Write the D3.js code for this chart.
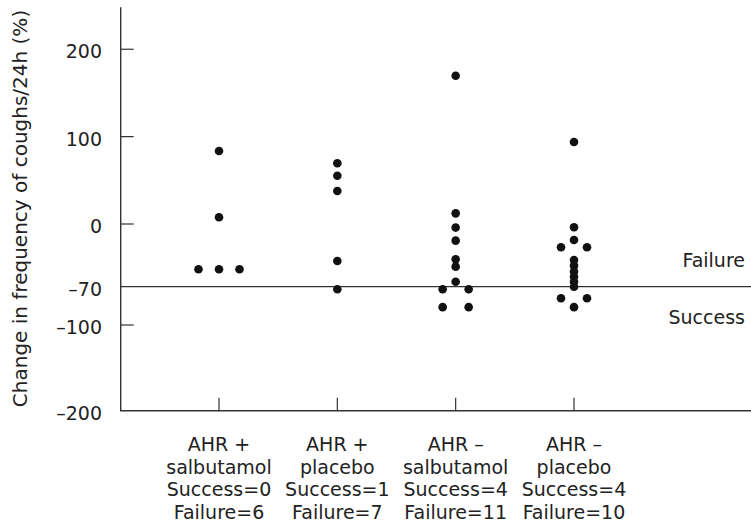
<!DOCTYPE html>
<html>
<head>
<meta charset="utf-8">
<script src="https://cdn.jsdelivr.net/npm/d3@7"></script>
<style>
  html, body { margin: 0; padding: 0; background: #fff; }
  svg { display: block; font-family: "DejaVu Sans", sans-serif; }
</style>
</head>
<body>
<svg id="chart" width="751" height="524"></svg>
<script>
// ---- data ----
const categories = ["AHR+ salbutamol", "AHR+ placebo", "AHR- salbutamol", "AHR- placebo"];
const categoryLabels = [
  ["AHR +", "salbutamol", "Success=0", "Failure=6"],
  ["AHR +", "placebo", "Success=1", "Failure=7"],
  ["AHR \u2013", "salbutamol", "Success=4", "Failure=11"],
  ["AHR \u2013", "placebo", "Success=4", "Failure=10"]
];
const ahrPosSalbutamol = [83.5, 7.7, -50.6, -50.6, -50.6];
const ahrPosPlacebo = [69.5, 55.3, 37.8, -41.3, -72];
const ahrNegSalbutamol = [169.7, 12.2, -4, -18.6, -39.4, -47.6, -64.4, -72, -72, -86, -86];
const ahrNegPlacebo = [93.8, -3.7, -17.9, -26, -26, -40.2, -46.5, -53.2, -58.8, -64.4, -70, -79, -79, -86];
const seriesValues = [ahrPosSalbutamol, ahrPosPlacebo, ahrNegSalbutamol, ahrNegPlacebo];
const yTickValues = [200, 100, 0, -70, -100, -200];
const yTickLabels = ["200", "100", "0", "\u201370", "\u2013100", "\u2013200"];
const threshold = -70;
const yAxisTitle = "Change in frequency of coughs/24h (%)";
const regionLabels = ["Failure", "Success"];

// ---- layout ----
const svg = d3.select("#chart");
const axisX = 120.7, axisBottom = 410.7, axisTop = 7.3, rightEnd = 751;
const ink = "#333";
const fontSize = 19;
const textColor = "#222";

// piecewise (schematic) y scale as drawn in the original
const y = d3.scaleLinear()
  .domain([-200, -100, -70, 0, 248])
  .range([axisBottom, 325, 286.7, 224, axisTop]);
const x = d3.scalePoint().domain(categories).range([219, 574]);

// axes lines
svg.append("line").attr("x1", axisX).attr("x2", axisX)
  .attr("y1", axisTop).attr("y2", axisBottom)
  .attr("stroke", ink).attr("stroke-width", 1.4);
svg.append("line").attr("x1", axisX - 0.7).attr("x2", rightEnd)
  .attr("y1", axisBottom).attr("y2", axisBottom)
  .attr("stroke", ink).attr("stroke-width", 1.4);

// y ticks (inward) except threshold and bottom
yTickValues.forEach((v, i) => {
  if (v !== threshold && v !== -200) {
    svg.append("line").attr("x1", axisX).attr("x2", axisX + 13)
      .attr("y1", y(v)).attr("y2", y(v))
      .attr("stroke", ink).attr("stroke-width", 1.2);
  }
  svg.append("text")
    .attr("x", 102).attr("y", y(v)).attr("dy", "0.485em")
    .attr("text-anchor", "end")
    .attr("font-size", fontSize).attr("fill", textColor)
    .text(yTickLabels[i]);
});

// threshold line
svg.append("line").attr("x1", axisX).attr("x2", rightEnd)
  .attr("y1", y(threshold)).attr("y2", y(threshold))
  .attr("stroke", ink).attr("stroke-width", 1.3);
svg.append("text").attr("x", 745).attr("y", y(threshold) - 19.4)
  .attr("text-anchor", "end").attr("font-size", fontSize).attr("fill", textColor)
  .text(regionLabels[0]);
svg.append("text").attr("x", 745).attr("y", y(threshold) + 37.3)
  .attr("text-anchor", "end").attr("font-size", fontSize).attr("fill", textColor)
  .text(regionLabels[1]);

// x ticks (inward) and labels
categories.forEach((c, i) => {
  svg.append("line").attr("x1", x(c)).attr("x2", x(c))
    .attr("y1", axisBottom).attr("y2", axisBottom - 13)
    .attr("stroke", ink).attr("stroke-width", 1.2);
  const t = svg.append("text").attr("text-anchor", "middle")
    .attr("font-size", fontSize).attr("fill", textColor);
  categoryLabels[i].forEach((line, j) => {
    t.append("tspan").attr("x", x(c)).attr("y", 451 + j * 22.6).text(line);
  });
});

// y axis title
svg.append("text")
  .attr("transform", `translate(27,${208.5}) rotate(-90)`)
  .attr("text-anchor", "middle").attr("font-size", 20).attr("fill", textColor)
  .text(yAxisTitle);

// dots: duplicates spread horizontally
categories.forEach((c, i) => {
  const vals = seriesValues[i];
  const groups = d3.group(vals.map((v, k) => ({v, k})), d => d.v);
  const pts = [];
  groups.forEach(arr => {
    const n = arr.length;
    const step = n >= 3 ? 20.5 : 26;
    arr.forEach((d, j) => pts.push({v: d.v, dx: (j - (n - 1) / 2) * step}));
  });
  svg.append("g").selectAll("circle").data(pts).join("circle")
    .attr("cx", d => x(c) + d.dx)
    .attr("cy", d => y(d.v))
    .attr("r", 4.3)
    .attr("fill", "#111");
});
</script>
</body>
</html>
